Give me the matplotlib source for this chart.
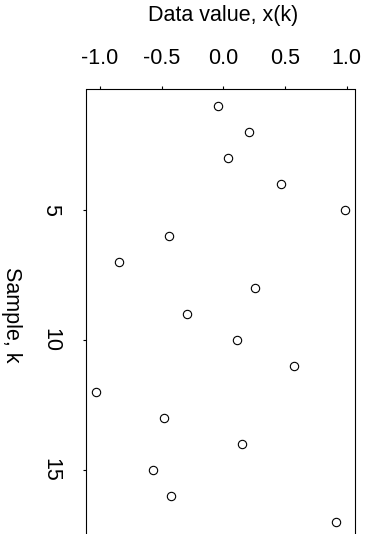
import numpy as np
import matplotlib as mpl
mpl.use('Agg')
import matplotlib.pyplot as plt

plt.rcParams['font.family'] = ['Liberation Sans', 'DejaVu Sans']

# sample index and observed value
samples = [1, 2, 3, 4, 5, 6, 7, 8, 9, 10, 11, 12, 13, 14, 15, 16, 17]
values = [-0.043, 0.206, 0.036, 0.468, 0.985, -0.443, -0.843, 0.255, -0.297,
          0.109, 0.576, -1.035, -0.478, 0.152, -0.573, -0.424, 0.914]
xticks = [-1.0, -0.5, 0.0, 0.5, 1.0]
xtick_labels = ['-1.0', '-0.5', '0.0', '0.5', '1.0']
yticks = [5, 10, 15]

W, H = 372, 534
fig = plt.figure(figsize=(W / 100, H / 100), dpi=100)
# axes runs off the bottom edge of the figure
left, right, top, bottom = 85.7, 354.7, 89.5, 538.3
ax = fig.add_axes([left / W, 1 - bottom / H, (right - left) / W, (bottom - top) / H])

ax.plot(values, samples, linestyle='none', marker='o', ms=6,
        mfc='white', mec='black', mew=0.8)

# 4% padding on each side, like R's default
xr = max(values) - min(values)
ax.set_xlim(min(values) - 0.04 * xr, max(values) + 0.04 * xr)
yr = max(samples) - min(samples)
ax.set_ylim(max(samples) + 0.04 * yr, min(samples) - 0.04 * yr)

ax.xaxis.tick_top()
ax.xaxis.set_label_position('top')
ax.set_xticks(xticks)
ax.set_xticklabels(xtick_labels)
ax.set_yticks(yticks)

for s in ax.spines.values():
    s.set_linewidth(0.8)
ax.spines['bottom'].set_visible(False)

ax.tick_params(axis='x', length=2.5, width=0.8, pad=12, labelsize=15.5)
ax.tick_params(axis='y', length=2.5, width=0.8, pad=15, labelsize=15.5,
               labelrotation=-90)
for lab in ax.get_yticklabels():
    lab.set_va('center')

ax.set_xlabel('Data value, x(k)', fontsize=15.5)
ax.xaxis.set_label_coords(0.51, 1.1526)
ax.set_ylabel('Sample, k', fontsize=15.5, rotation=-90, va='center')
ax.yaxis.set_label_coords(-0.274, 0.4975)

fig.savefig('out.png', dpi=100)
